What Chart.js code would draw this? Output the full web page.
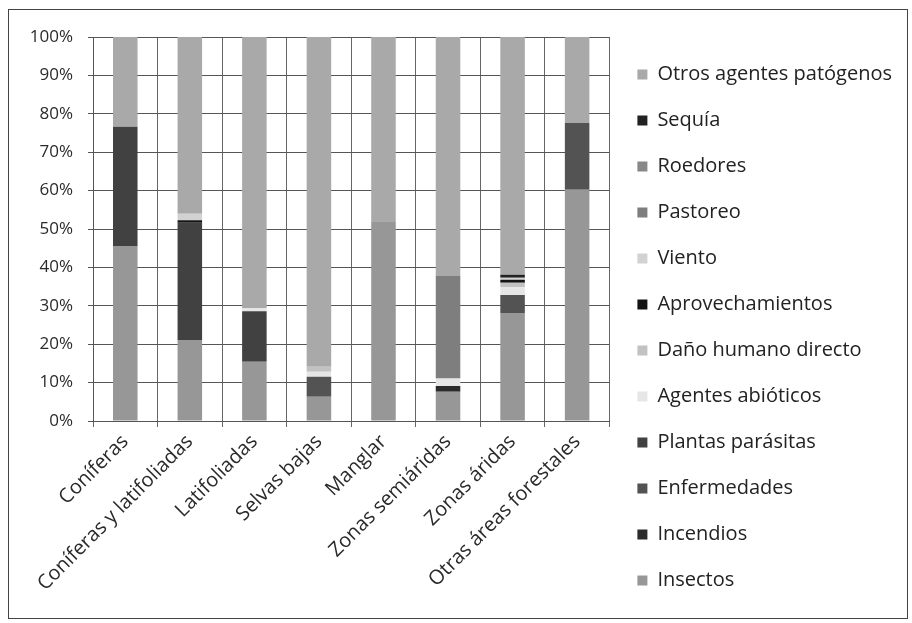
<!DOCTYPE html>
<html>
<head>
<meta charset="utf-8">
<script src="https://cdn.jsdelivr.net/npm/chart.js@4"></script>
<style>
    html, body { margin: 0; padding: 0; background: #fff; }
    #wrap { position: relative; width: 912px; height: 623px; }
    #frame { position: absolute; left: 8px; top: 9px; width: 898px; height: 608px; border: 1px solid #444; pointer-events: none; }
    canvas { position: absolute; left: 0; top: 0; }
</style>
</head>
<body>
<div id="wrap">
    <canvas id="chart" width="912" height="623"></canvas>
    <div id="frame"></div>
</div>
<script>
// categorías (eje X)
const categories = ['Coníferas', 'Coníferas y latifoliadas', 'Latifoliadas', 'Selvas bajas', 'Manglar', 'Zonas semiáridas', 'Zonas áridas', 'Otras áreas forestales'];
const yTicks = [0, 10, 20, 30, 40, 50, 60, 70, 80, 90, 100];

// porcentajes por agente (de abajo hacia arriba)
const insectos         = [45.6, 21.1, 15.4, 6.3, 52.0, 7.6, 28.1, 60.2];
const incendios        = [0, 0, 0, 0, 0, 1.5, 0, 0];
const enfermedades     = [0, 0, 0, 5.2, 0, 0, 4.7, 17.4];
const plantasParasitas = [31.0, 30.5, 13.2, 0, 0, 0, 0, 0];
const agentesAbioticos = [0, 0, 0.8, 1.3, 0, 2.0, 2.0, 0];
const danoHumano       = [0, 0, 0, 1.3, 0, 0, 1.2, 0];
const aprovechamientos = [0, 0.7, 0, 0, 0, 0, 0.8, 0];
const viento           = [0, 1.7, 0, 0, 0, 0, 0.5, 0];
const pastoreo         = [0, 0, 0, 0, 0, 26.8, 0, 0];
const roedores         = [0, 0, 0, 0, 0, 0, 0, 0];
const sequia           = [0, 0, 0, 0, 0, 0, 0.8, 0];
const otrosPatogenos   = [23.4, 46.0, 70.6, 85.9, 48.0, 62.1, 61.9, 22.4];

const seriesNames = ['Insectos', 'Incendios', 'Enfermedades', 'Plantas parásitas', 'Agentes abióticos', 'Daño humano directo', 'Aprovechamientos', 'Viento', 'Pastoreo', 'Roedores', 'Sequía', 'Otros agentes patógenos'];
const seriesData = [insectos, incendios, enfermedades, plantasParasitas, agentesAbioticos, danoHumano, aprovechamientos, viento, pastoreo, roedores, sequia, otrosPatogenos];
const seriesColors = ['#979797', '#2b2b2b', '#535353', '#414141', '#e6e6e6', '#c2c2c2', '#141414', '#d2d2d2', '#7e7e7e', '#888888', '#222222', '#a9a9a9'];

const datasets = seriesNames.map((name, i) => ({
    label: name,
    data: seriesData[i],
    backgroundColor: seriesColors[i],
    borderWidth: 0,
    categoryPercentage: 1,
    barPercentage: 0.38
}));

// mueve la leyenda un poco a la derecha
const shiftLegend = {
    id: 'shiftLegend',
    afterLayout(chart) {
        chart.legend.left += 2;
        chart.legend.right += 2;
    }
};

const ctx = document.getElementById('chart');
new Chart(ctx, {
    type: 'bar',
    data: { labels: categories, datasets: datasets },
    plugins: [shiftLegend],
    options: {
        responsive: false,
        animation: false,
        layout: { padding: { left: 20, top: 37, right: 12, bottom: 5 } },
        plugins: {
            tooltip: { enabled: false },
            legend: {
                position: 'right',
                reverse: true,
                maxWidth: 400,
                labels: {
                    boxWidth: 10,
                    boxHeight: 10,
                    padding: 26,
                    color: '#222',
                    font: { family: 'Open Sans', size: 20 }
                }
            }
        },
        scales: {
            x: {
                stacked: true,
                afterFit: s => { s.height = 623 - 421 - 5; },
                grid: { offset: true, color: '#666', lineWidth: 1, tickLength: 6 },
                border: { color: '#555' },
                ticks: {
                    minRotation: 45,
                    maxRotation: 45,
                    autoSkip: false,
                    color: '#2a2a2a',
                    font: { family: 'Open Sans', size: 20 }
                }
            },
            y: {
                stacked: true,
                min: 0,
                max: 100,
                afterFit: s => { s.width = 93 - 20; },
                afterBuildTicks: s => { s.ticks = yTicks.map(v => ({ value: v })); },
                grid: { color: '#555', lineWidth: 1, tickLength: 5 },
                border: { color: '#555' },
                ticks: {
                    padding: 15,
                    color: '#2a2a2a',
                    font: { family: 'Open Sans', size: 17 },
                    callback: v => v + '%'
                }
            }
        }
    }
});
</script>
</body>
</html>
